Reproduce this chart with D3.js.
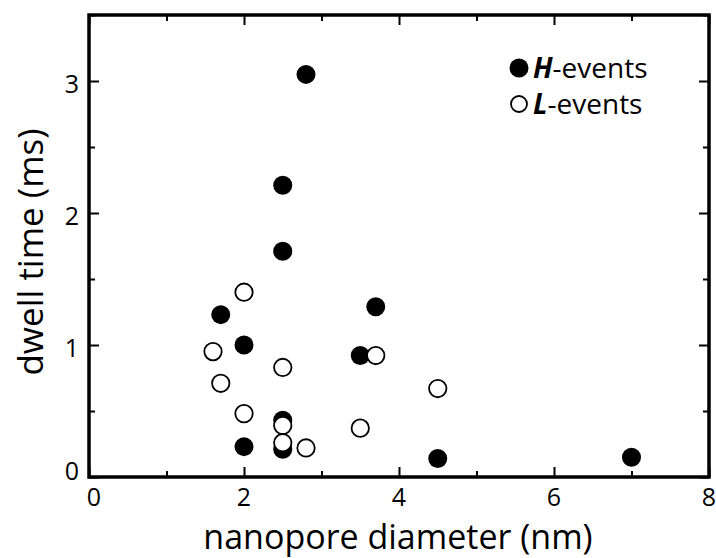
<!DOCTYPE html>
<html>
<head>
<meta charset="utf-8">
<script src="https://cdn.jsdelivr.net/npm/d3@7"></script>
<style>
  body { margin: 0; background: #fff; }
  text { font-family: "Open Sans", "Noto Sans", sans-serif; fill: #000; }
</style>
</head>
<body>
<svg id="chart" width="716" height="558"></svg>
<script>
// H-events (filled) and L-events (open): [diameter nm, dwell ms]
var hEvents = [
  [2.8, 3.05], [2.5, 2.21], [2.5, 1.71], [1.7, 1.23], [2.0, 1.0],
  [3.7, 1.29], [3.5, 0.92], [2.5, 0.43], [2.5, 0.21], [2.0, 0.23],
  [4.5, 0.14], [7.0, 0.15]
];
var lEvents = [
  [2.0, 1.40], [1.6, 0.95], [1.7, 0.71], [2.0, 0.48], [2.5, 0.83],
  [2.5, 0.39], [2.5, 0.26], [2.8, 0.22], [3.7, 0.92], [3.5, 0.37],
  [4.5, 0.67]
];
var xTicks = [0, 2, 4, 6, 8];
var xMinor = [1, 3, 5, 7];
var yTicks = [0, 1, 2, 3];
var yMinor = [0.5, 1.5, 2.5, 3.5];

var svg = d3.select("#chart");
var pLeft = 89, pRight = 709, pTop = 15, pBottom = 477;

var x = d3.scaleLinear().domain([0, 8]).range([pLeft, pRight]);
var y = d3.scaleLinear().domain([0, 3.5]).range([pBottom, pTop]);

// ticks, pointing inward on all four sides
function tickAxis(axisFn, scale, vals, len, tr) {
  var g = svg.append("g").attr("transform", tr)
    .call(axisFn(scale).tickValues(vals).tickSize(len).tickFormat(""));
  g.select(".domain").remove();
  g.selectAll("line").attr("stroke", "#000").attr("stroke-width", 2);
  return g;
}
tickAxis(d3.axisTop, x, xTicks, 10, "translate(0," + pBottom + ")");
tickAxis(d3.axisTop, x, xMinor, 6, "translate(0," + pBottom + ")");
tickAxis(d3.axisBottom, x, xTicks, 10, "translate(0," + pTop + ")");
tickAxis(d3.axisBottom, x, xMinor, 6, "translate(0," + pTop + ")");
tickAxis(d3.axisRight, y, yTicks, 10, "translate(" + pLeft + ",0)");
tickAxis(d3.axisRight, y, yMinor, 6, "translate(" + pLeft + ",0)");
tickAxis(d3.axisLeft, y, yTicks, 10, "translate(" + pRight + ",0)");
tickAxis(d3.axisLeft, y, yMinor, 6, "translate(" + pRight + ",0)");

svg.append("rect")
  .attr("x", pLeft).attr("y", pTop)
  .attr("width", pRight - pLeft).attr("height", pBottom - pTop)
  .attr("fill", "none").attr("stroke", "#000").attr("stroke-width", 3.5);

// tick labels
svg.selectAll(".xl").data(xTicks).enter().append("text")
  .attr("x", function(d) { return d === 0 ? x(d) + 5 : x(d); })
  .attr("y", 506)
  .attr("text-anchor", "middle")
  .attr("font-size", 25)
  .text(function(d) { return d; });

svg.selectAll(".yl").data(yTicks).enter().append("text")
  .attr("x", 79)
  .attr("y", function(d) { return (d === 0 ? y(d) - 9 : y(d)) + 12; })
  .attr("text-anchor", "end")
  .attr("font-size", 25)
  .text(function(d) { return d; });

// axis titles
svg.append("text")
  .attr("x", 398).attr("y", 549)
  .attr("text-anchor", "middle").attr("font-size", 34)
  .text("nanopore diameter (nm)");

svg.append("text")
  .attr("transform", "translate(43,252) rotate(-90)")
  .attr("text-anchor", "middle").attr("font-size", 35)
  .text("dwell time (ms)");

// points
svg.selectAll(".h").data(hEvents).enter().append("circle")
  .attr("cx", function(d) { return x(d[0]); })
  .attr("cy", function(d) { return y(d[1]); })
  .attr("r", 9.5)
  .attr("fill", "#000");

svg.selectAll(".l").data(lEvents).enter().append("circle")
  .attr("cx", function(d) { return x(d[0]); })
  .attr("cy", function(d) { return y(d[1]); })
  .attr("r", 8.7)
  .attr("fill", "#fff")
  .attr("stroke", "#000").attr("stroke-width", 1.8);

// legend
var legend = [
  {key: "H", filled: true, cy: 68},
  {key: "L", filled: false, cy: 104}
];
var lg = svg.selectAll(".lg").data(legend).enter().append("g");
lg.append("circle")
  .attr("cx", 519).attr("cy", function(d) { return d.cy; })
  .attr("r", function(d) { return d.filled ? 9.5 : 8; })
  .attr("fill", function(d) { return d.filled ? "#000" : "#fff"; })
  .attr("stroke", "#000").attr("stroke-width", function(d) { return d.filled ? 0 : 1.8; });
var lt = lg.append("text")
  .attr("x", 533).attr("y", function(d) { return d.cy + 10; })
  .attr("font-size", 28);
lt.append("tspan").attr("font-weight", "bold").attr("font-style", "italic")
  .text(function(d) { return d.key; });
lt.append("tspan").text("-events");
</script>
</body>
</html>
